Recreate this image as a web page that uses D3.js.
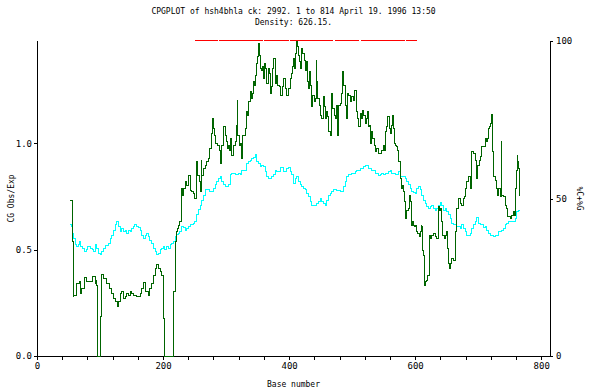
<!DOCTYPE html>
<html>
<head>
<meta charset="utf-8">
<script src="https://cdn.jsdelivr.net/npm/d3@7"></script>
<style>
  body { margin: 0; background: #fff; }
  text { font-family: "DejaVu Sans Mono", monospace; fill: #000; }
</style>
</head>
<body>
<div id="chart"></div>
<script>
// CG obs/exp (green, left axis)
var obsBase = [52.4, 56.1, 56.6, 57.2, 57.7, 61.9, 67.2, 69.3, 71.4, 74.6, 77.8, 81.5, 86.8, 88.3, 92.1, 93.6, 94.7, 95.7, 100.0, 101.6,
  105.3, 110.6, 114.8, 118.5, 121.1, 123.8, 127.5, 129.6, 131.7, 134.4, 137.0, 139.7, 142.3, 145.0, 147.6, 150.2, 152.9, 158.2, 163.5, 166.1,
  168.8, 171.4, 176.7, 179.3, 182.0, 184.6, 187.3, 189.9, 192.6, 195.2, 197.8, 200.5, 201.5, 202.6, 216.4, 219.0, 221.7, 223.2, 225.3, 226.9,
  228.5, 230.6, 232.2, 234.9, 237.5, 240.2, 242.8, 245.5, 248.1, 250.7, 252.3, 253.4, 255.0, 257.1, 258.7, 260.3, 261.3, 264.0, 266.6, 269.3,
  271.9, 274.5, 276.1, 278.2, 279.8, 281.4, 283.5, 286.7, 288.8, 290.4, 292.0, 293.1, 295.7, 298.4, 299.9, 301.5, 303.6, 305.2, 306.8, 308.9,
  311.6, 314.2, 315.8, 317.4, 318.5, 320.6, 322.2, 324.8, 326.4, 328.5, 330.1, 331.7, 333.3, 335.4, 338.0, 339.6, 341.7, 343.3, 344.9, 346.0,
  347.5, 349.1, 351.3, 352.3, 353.9, 356.5, 357.6, 359.2, 360.8, 362.9, 364.5, 367.1, 368.7, 369.8, 372.4, 374.0, 375.6, 377.7, 379.3, 380.9,
  384.0, 386.2, 388.3, 389.9, 391.5, 393.6, 396.2, 398.9, 401.5, 404.2, 405.7, 406.8, 407.9, 409.5, 411.1, 413.2, 414.8, 416.4, 418.5, 420.1,
  421.7, 423.8, 425.4, 427.0, 429.1, 430.7, 432.3, 434.4, 436.0, 437.6, 439.7, 441.3, 442.9, 443.9, 445.5, 448.2, 450.3, 451.9, 454.5, 456.1,
  457.7, 459.8, 461.4, 463.0, 465.1, 467.2, 468.8, 471.4, 473.0, 474.6, 476.7, 478.3, 481.0, 483.6, 485.2, 486.8, 488.9, 491.5, 493.1, 494.7,
  496.8, 499.5, 502.1, 504.2, 506.3, 508.5, 510.0, 512.7, 514.3, 515.9, 518.0, 520.6, 522.2, 524.3, 525.9, 527.5, 529.6, 531.2, 532.8, 534.9,
  537.0, 539.1, 541.8, 544.4, 547.1, 549.7, 551.3, 553.4, 555.0, 556.6, 558.7, 560.3, 561.9, 563.5, 565.1, 566.6, 568.2, 570.9, 572.5, 574.1,
  576.2, 577.8, 579.3, 581.5, 583.6, 585.2, 586.8, 589.4, 591.5, 593.1, 594.2, 595.7, 597.3, 598.9, 601.0, 602.6, 604.2, 606.3, 607.9, 609.5,
  610.6, 611.6, 613.2, 614.8, 616.9, 618.5, 620.1, 622.2, 623.8, 626.4, 629.1, 631.7, 634.4, 637.0, 638.6, 639.6, 642.3, 643.9, 646.0, 647.6,
  650.2, 651.8, 652.9, 654.5, 656.0, 658.2, 660.8, 663.5, 664.5, 666.1, 668.7, 671.4, 674.0, 676.7, 678.3, 679.3, 682.0, 684.6, 687.3, 688.3,
  689.9, 692.6, 695.2, 697.8, 699.4, 701.5, 703.7, 705.8, 708.4, 711.1, 712.6, 714.2, 716.4, 717.9, 719.5, 721.1, 722.7, 724.3, 726.9, 728.5,
  730.1, 732.2, 734.9, 736.5, 737.5, 740.2, 742.8, 744.4, 746.0, 748.1, 750.7, 753.4, 756.0, 757.6, 758.7, 760.3, 761.8, 762.9, 764.0, 765.0, 766.1];
var obsExp = [.732, .732, .54, .278, .286, .341, .349, .294, .318, .368, .349, .352, .352, .372, .341, .357, .333, 0, .185, .383,
  .364, .341, .318, .294, .271, .255, .231, .255, .294, .302, .271, .278, .294, .286, .302, .294, .286, .278, .294, .318,
  .346, .302, .286, .318, .341, .380, .411, .430, .411, .396, .380, .364, .177, 0, .302, .537, .584, .599, .615, .631,
  .787, .756, .787, .818, .803, .850, .779, .771, .764, .740, .771, .915, .850, .818, .771, .920, .850, .881, .897, .912,
  .928, .975, 1.045, 1.116, 1.069, 1.037, .998, .991, .967, .904, .959, .991, 1.077, 1.037, 1.006, .975, .991, .967, 1.022, .944,
  .991, 1.006, 1.084, 1.202, 1.037, .991, .998, .928, 1.037, 1.037, 1.069, 1.147, 1.131, 1.194, 1.241, 1.210, 1.233, 1.288, 1.272, 1.319,
  1.374, 1.405, 1.468, 1.413, 1.351, 1.343, 1.358, 1.304, 1.374, 1.351, 1.280, 1.351, 1.327, 1.233, 1.264, 1.351, 1.397, 1.280, 1.319, 1.272,
  1.264, 1.225, 1.225, 1.264, 1.304, 1.257, 1.225, 1.257, 1.304, 1.327, 1.358, 1.397, 1.351, 1.421, 1.476, 1.452, 1.413, 1.382, 1.351, 1.444,
  1.421, 1.390, 1.343, 1.382, 1.288, 1.257, 1.335, 1.272, 1.171, 1.225, 1.194, 1.210, 1.390, 1.288, 1.210, 1.178, 1.131, 1.116, 1.217, 1.171,
  1.116, 1.147, 1.124, 1.053, 1.037, 1.233, 1.163, 1.131, 1.116, 1.178, 1.037, 1.178, 1.186, 1.233, 1.335, 1.272, 1.178, 1.116, 1.233, 1.225,
  1.194, 1.217, 1.202, 1.249, 1.147, 1.116, 1.077, 1.139, 1.116, 1.155, 1.131, 1.092, 1.116, 1.147, 1.077, 1.084, .998, 1.053, 1.022, .991,
  .959, .975, .951, .951, .967, .991, .967, 1.053, 1.077, 1.124, 1.069, 1.045, 1.084, 1.131, 1.069, .998, .991, .983, .967, .912,
  .834, .787, .803, .771, .725, .646, .685, .693, .756, .725, .615, .631, .615, .607, .615, .584, .576, .560, .584, .615,
  .607, .498, .474, .333, .349, .357, .380, .568, .552, .568, .576, .560, .552, .701, .685, .693, .631, .568, .552, .568,
  .584, .505, .435, .411, .435, .458, .451, .466, .584, .693, .740, .717, .709, .740, .748, .787, .818, .842, .818, .787,
  .959, .951, .920, .834, .897, .920, .936, .983, .983, 1.022, 1.006, 1.022, 1.069, 1.077, 1.092, 1.135, .959, .842, .826, .787,
  .756, .787, .748, 1.006, .756, .748, .709, .693, .654, .654, .646, .662, .678, .662, .787, .873, .944, .912, .881, .756, .752];

// %C+%G (cyan, right axis)
var gcBase = [52.4, 54.0, 56.1, 58.7, 60.3, 63.0, 65.6, 68.2, 69.8, 72.5, 74.6, 77.8, 80.9, 84.1, 87.3, 89.4, 92.6, 94.7, 97.3, 100.0,
  102.6, 105.3, 107.9, 113.2, 115.9, 118.5, 121.1, 123.8, 126.4, 129.1, 131.7, 134.4, 137.0, 139.7, 142.3, 145.0, 147.6, 150.2, 152.9, 155.5,
  158.2, 160.8, 163.5, 166.1, 168.8, 171.4, 174.0, 176.7, 179.3, 182.0, 184.6, 187.3, 189.9, 192.6, 195.2, 197.8, 200.5, 203.1, 205.8, 208.4,
  211.1, 213.7, 216.4, 219.0, 221.7, 224.3, 226.9, 229.6, 232.2, 234.9, 237.5, 240.2, 242.8, 245.5, 248.1, 250.7, 253.4, 256.0, 258.7, 261.3,
  264.0, 266.6, 269.3, 271.9, 274.5, 277.2, 279.8, 282.5, 285.1, 287.8, 290.4, 293.1, 295.7, 298.4, 301.0, 303.6, 306.3, 308.9, 314.2, 319.5,
  322.2, 324.8, 330.1, 332.7, 335.4, 338.0, 340.7, 343.3, 346.0, 348.6, 351.3, 353.9, 356.5, 359.2, 361.8, 364.5, 367.1, 369.8, 372.4, 375.1,
  377.7, 380.3, 385.6, 388.3, 390.9, 393.6, 396.2, 398.9, 401.5, 404.2, 406.9, 409.5, 412.2, 414.8, 417.5, 420.1, 422.8, 425.4, 428.1, 430.7,
  433.3, 436.0, 441.3, 443.9, 446.6, 449.2, 451.9, 454.5, 457.2, 459.8, 462.4, 465.1, 467.7, 470.4, 475.7, 481.0, 483.6, 486.2, 488.9, 491.5,
  494.2, 499.5, 504.8, 507.4, 512.7, 518.0, 520.6, 523.3, 525.9, 531.2, 536.5, 541.8, 544.4, 547.1, 549.7, 552.4, 557.7, 560.3, 563.0, 568.2,
  573.5, 576.2, 581.5, 584.1, 586.8, 589.4, 592.0, 594.7, 597.3, 600.0, 602.6, 605.3, 607.9, 610.6, 613.2, 615.8, 618.5, 621.1, 623.8, 626.4,
  629.1, 631.7, 634.4, 637.0, 639.6, 642.3, 644.9, 647.6, 650.2, 652.9, 655.5, 657.1, 660.8, 666.1, 671.4, 674.0, 676.7, 679.3, 682.0, 684.6,
  687.3, 689.9, 692.6, 695.2, 697.8, 700.5, 703.1, 708.4, 711.1, 713.7, 716.4, 719.0, 724.3, 726.9, 732.2, 737.5, 740.2, 742.8, 745.4, 748.1,
  756.0, 758.7, 761.3, 764.0, 766.1];
var gcPct = [41.6, 41.1, 39.0, 37.4, 35.3, 34.7, 35.3, 36.3, 34.7, 34.2, 33.1, 33.7, 34.7, 34.2, 33.7, 33.3, 35.3, 34.2, 32.6, 32.1,
  33.1, 34.2, 35.0, 35.8, 37.4, 38.4, 40.0, 41.6, 42.6, 41.1, 39.5, 40.5, 39.5, 40.0, 38.9, 40.0, 39.5, 40.5, 41.1, 41.6,
  41.1, 40.7, 40.0, 38.4, 37.4, 38.4, 38.9, 37.9, 36.8, 35.8, 34.2, 33.1, 32.1, 32.6, 33.7, 34.2, 34.7, 33.7, 34.7, 34.2,
  35.3, 35.8, 36.3, 37.9, 38.6, 38.9, 39.5, 41.1, 40.7, 40.0, 40.5, 41.1, 41.6, 41.8, 42.1, 42.6, 44.8, 46.4, 47.9, 49.5,
  51.1, 52.7, 53.0, 52.7, 52.2, 52.2, 53.2, 54.3, 55.3, 56.4, 56.9, 55.3, 54.3, 53.8, 53.8, 54.3, 57.5, 58.0, 57.7, 58.0,
  57.5, 59.0, 59.0, 61.2, 61.7, 62.2, 62.8, 63.0, 64.0, 61.7, 61.2, 60.1, 60.6, 60.1, 58.5, 56.9, 56.4, 56.2, 56.9, 57.5,
  59.0, 58.5, 59.8, 59.8, 58.5, 58.7, 59.6, 59.8, 58.5, 57.5, 54.8, 56.4, 56.9, 55.3, 54.3, 53.8, 53.2, 52.7, 51.6, 50.6,
  49.0, 47.9, 47.9, 48.5, 49.0, 50.1, 49.0, 48.5, 47.9, 49.5, 51.1, 51.6, 52.2, 52.7, 52.4, 52.2, 52.2, 53.8, 55.3, 56.9,
  57.5, 58.0, 58.5, 59.0, 59.6, 60.1, 60.4, 60.6, 59.6, 59.0, 58.0, 57.3, 57.5, 58.0, 57.5, 58.0, 58.5, 59.0, 58.0, 57.5,
  58.5, 56.9, 56.9, 56.4, 55.3, 54.3, 53.2, 52.2, 52.0, 51.6, 53.2, 53.8, 52.7, 51.1, 49.5, 48.5, 47.4, 46.9, 47.4, 47.9,
  46.9, 46.3, 46.9, 47.9, 48.7, 47.9, 46.3, 46.9, 45.8, 44.8, 43.7, 42.1, 41.6, 41.1, 40.5, 41.6, 40.5, 39.5, 38.4, 38.1,
  38.9, 40.5, 41.6, 42.6, 43.9, 42.1, 41.6, 40.7, 41.1, 40.0, 38.9, 38.4, 37.9, 38.4, 39.5, 40.0, 40.5, 41.6, 42.1, 42.6,
  42.6, 43.7, 45.8, 46.3, 46.3];

// CpG islands (red bars along the top)
var islandStart = [251, 289, 360, 402, 473, 514, 586];
var islandEnd = [287, 359, 400, 470, 511, 584, 603];

var seqLength = 814;
var leftTicks = [0, 0.5, 1.0];
var rightTicks = [0, 50, 100];
var xLabelTicks = [0, 200, 400, 600, 800];

var chartwidth = 596;
var chartheight = 390;
var padL = 37, padR = 550, padT = 41, padB = 356;

var svg = d3.select("#chart")
  .append("svg")
  .attr("width", chartwidth)
  .attr("height", chartheight);

var x = d3.scaleLinear().domain([0, seqLength]).range([padL, padR]);
var yL = d3.scaleLinear().domain([0, 1.48]).range([padB, padT]);
var yR = d3.scaleLinear().domain([0, 100]).range([padB, padT]);

// axes
var xAxis = d3.axisBottom(x).tickValues(d3.range(0, seqLength, 40))
  .tickSize(4).tickPadding(3)
  .tickFormat(function(d) { return xLabelTicks.indexOf(d) >= 0 ? d : ""; });
var gx = svg.append("g").attr("transform", "translate(0," + padB + ")").call(xAxis);

var gl = svg.append("g").attr("transform", "translate(" + padL + ",0)")
  .call(d3.axisLeft(yL).tickValues(leftTicks).tickSize(3).tickPadding(2).tickFormat(d3.format(".1f")));

var gr = svg.append("g").attr("transform", "translate(" + padR + ",0)")
  .call(d3.axisRight(yR).tickValues(rightTicks).tickSize(3).tickPadding(3));

[gx, gl, gr].forEach(function(g) {
  g.select(".domain").remove();
  g.selectAll("line").attr("stroke", "#000").attr("shape-rendering", "crispEdges");
  g.selectAll("text").style("font-family", "DejaVu Sans Mono").style("font-size", "9px").attr("fill", "#000");
});

// axis lines
svg.append("line").attr("x1", padL).attr("x2", padR).attr("y1", padB).attr("y2", padB)
  .attr("stroke", "#000").attr("shape-rendering", "crispEdges");
svg.append("line").attr("x1", padL).attr("x2", padL).attr("y1", padT).attr("y2", padB)
  .attr("stroke", "#000").attr("shape-rendering", "crispEdges");
svg.append("line").attr("x1", padR).attr("x2", padR).attr("y1", padT).attr("y2", padB)
  .attr("stroke", "#000").attr("shape-rendering", "crispEdges");

// series
var obs = obsBase.map(function(b, i) { return [b, obsExp[i]]; });
var gc = gcBase.map(function(b, i) { return [b, gcPct[i]]; });

svg.append("path")
  .datum(gc)
  .attr("fill", "none")
  .attr("stroke", "#00ffff")
  .attr("stroke-width", 1)
  .attr("shape-rendering", "crispEdges")
  .attr("d", d3.line().curve(d3.curveStepAfter)
    .x(function(d) { return x(d[0]); })
    .y(function(d) { return yR(d[1]); }));

svg.append("path")
  .datum(obs)
  .attr("fill", "none")
  .attr("stroke", "#006400")
  .attr("stroke-width", 1)
  .attr("shape-rendering", "crispEdges")
  .attr("d", d3.line().curve(d3.curveStepAfter)
    .x(function(d) { return x(d[0]); })
    .y(function(d) { return yL(d[1]); }));

// islands
svg.selectAll(".island")
  .data(islandStart)
  .enter()
  .append("line")
  .attr("class", "island")
  .attr("x1", function(d) { return x(d); })
  .attr("x2", function(d, i) { return x(islandEnd[i]); })
  .attr("y1", padT - 1)
  .attr("y2", padT - 1)
  .attr("stroke", "#ff0000")
  .attr("stroke-width", 1)
  .attr("shape-rendering", "crispEdges");

// titles and axis labels
svg.append("text")
  .attr("x", (padL + padR) / 2).attr("y", 11)
  .attr("text-anchor", "middle").attr("dominant-baseline", "central")
  .style("font-size", "8px")
  .text("CPGPLOT of hsh4bhla ck: 2992. 1 to 814 April 19. 1996 13:50");
svg.append("text")
  .attr("x", (padL + padR) / 2).attr("y", 22)
  .attr("text-anchor", "middle").attr("dominant-baseline", "central")
  .style("font-size", "8px")
  .text("Density: 626.15.");

svg.append("text")
  .attr("x", (padL + padR) / 2).attr("y", 384)
  .attr("text-anchor", "middle").attr("dominant-baseline", "central")
  .style("font-size", "8px")
  .text("Base number");

svg.append("text")
  .attr("transform", "translate(11," + ((padT + padB) / 2) + ") rotate(-90)")
  .attr("text-anchor", "middle").attr("dominant-baseline", "central")
  .style("font-size", "8px")
  .text("CG Obs/Exp");

svg.append("text")
  .attr("transform", "translate(579," + ((padT + padB) / 2) + ") rotate(90)")
  .attr("text-anchor", "middle").attr("dominant-baseline", "central")
  .style("font-size", "8px")
  .text("%C+%G");
</script>
</body>
</html>
